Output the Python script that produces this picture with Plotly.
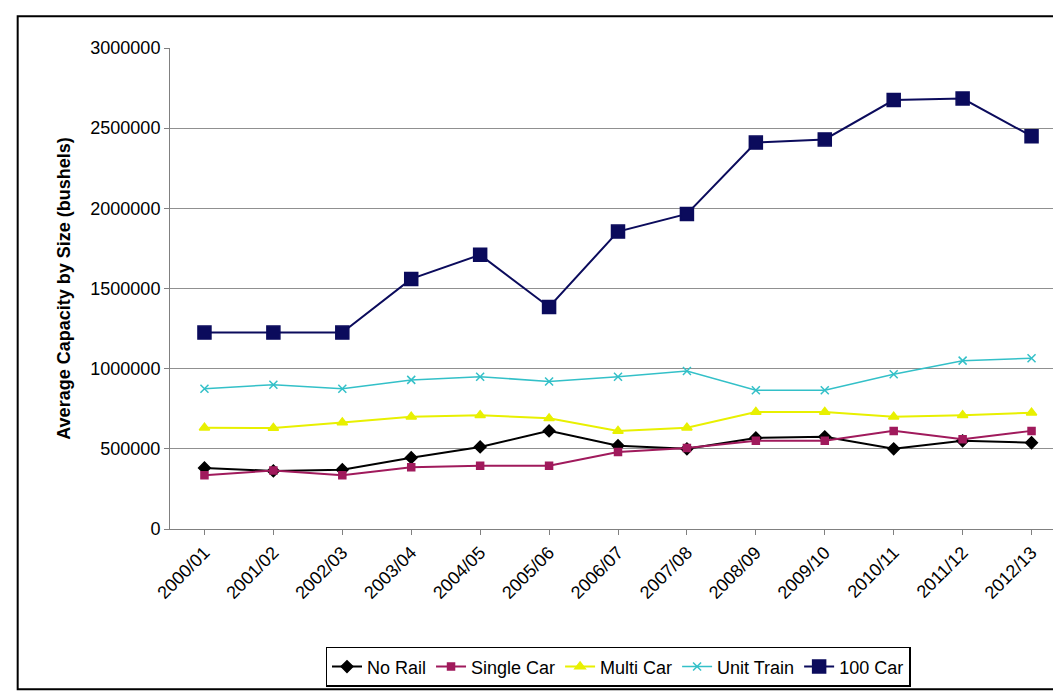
import plotly.graph_objects as go

years = ["2000/01", "2001/02", "2002/03", "2003/04", "2004/05", "2005/06", "2006/07",
         "2007/08", "2008/09", "2009/10", "2010/11", "2011/12", "2012/13"]
no_rail = [381000, 362000, 370000, 445000, 512000, 612000, 520000, 500000, 568000, 575000, 500000, 550000, 538000]
single_car = [335000, 365000, 335000, 385000, 395000, 395000, 480000, 505000, 550000, 550000, 612000, 560000, 612000]
multi_car = [631000, 630000, 665000, 700000, 710000, 690000, 612000, 632000, 730000, 730000, 700000, 710000, 725000]
unit_train = [875000, 900000, 875000, 930000, 950000, 920000, 950000, 985000, 865000, 865000, 965000, 1050000, 1065000]
car_100 = [1225000, 1225000, 1225000, 1560000, 1710000, 1385000, 1855000, 1965000, 2410000, 2430000, 2675000, 2685000, 2450000]

series = [
    ("No Rail", no_rail, "#000000", "diamond", 9, 2),
    ("Single Car", single_car, "#a01a5c", "square", 7, 2),
    ("Multi Car", multi_car, "#e8f000", "triangle-up", 9, 2),
    ("Unit Train", unit_train, "#33c0c8", "x-thin-open", 8, 1.5),
    ("100 Car", car_100, "#0b0b5c", "square", 13, 2),
]

fig = go.Figure()
for name, vals, col, sym, size, w in series:
    fig.add_trace(go.Scatter(
        x=years, y=vals, name=name, mode="lines+markers",
        line=dict(color=col, width=w),
        marker=dict(symbol=sym, size=size, color=col, line=dict(color=col, width=1.5)),
    ))

fig.update_layout(
    width=1061, height=691,
    margin=dict(l=162, r=3, t=40, b=170),
    paper_bgcolor="white", plot_bgcolor="white",
    font=dict(family="Liberation Sans, Arial", size=18, color="black"),
    xaxis=dict(type="category", tickangle=-45, showline=True, linecolor="#808080",
               ticks="outside", tickcolor="#808080", showgrid=False,
               range=[-0.5, 12.5], tickfont=dict(size=18)),
    yaxis=dict(range=[0, 3000000], dtick=500000, showgrid=True, gridcolor="#909090",
               showline=True, linecolor="#808080", ticks="outside", tickcolor="#808080",
               tickformat="d", zeroline=False, tickfont=dict(size=18),
               title=dict(text="<b>Average Capacity by Size (bushels)</b>", font=dict(size=18))),
    legend=dict(orientation="h", x=0.5, xanchor="center", y=-0.245, yanchor="top",
                bordercolor="black", borderwidth=1.5, font=dict(size=18)),
    shapes=[dict(type="rect", xref="paper", yref="paper", x0=-0.17, x1=1.0, y0=-0.333, y1=1.066,
                 line=dict(color="black", width=2))],
)

fig.write_html("out.html")
